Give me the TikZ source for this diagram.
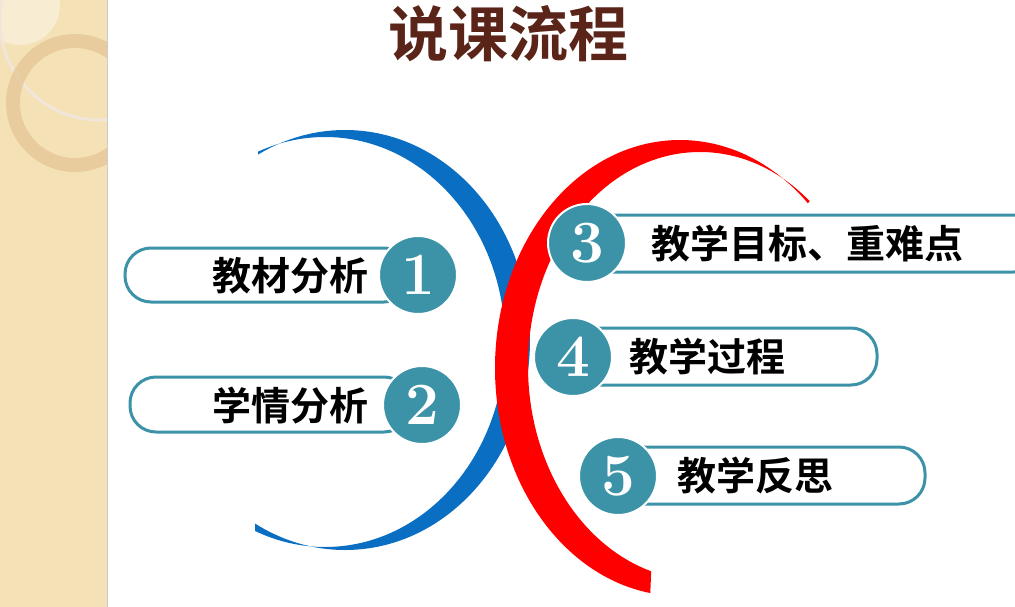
\documentclass[tikz,border=0pt]{standalone}
\usepackage{fontspec}
\newfontfamily\cjk{Noto Sans CJK SC}[BoldFont={Noto Sans CJK SC Bold}]
\definecolor{teal}{HTML}{3C93A8}
\definecolor{beige}{HTML}{F4E2B6}
\definecolor{brownt}{HTML}{5A2418}
\definecolor{blueC}{HTML}{0A6FC2}
\tikzset{
 pill/.style={draw=teal,line width=3pt,rounded corners=26pt,fill=white},
 num/.style={circle,fill=teal,draw=white,line width=2pt,minimum size=78pt,text=white,font=\bfseries\fontsize{60}{60}\selectfont},
 lab/.style={font=\cjk\bfseries\fontsize{39}{39}\selectfont,anchor=west}
}
\begin{document}
\begin{tikzpicture}[x=1pt,y=-1pt]
\useasboundingbox (0,0) rectangle (1015,607);
\fill[white] (0,0) rectangle (1015,607);
\fill[beige] (0,0) rectangle (107,607);
\draw[black!20,line width=1pt] (107,0) -- (107,607);
\begin{scope}
\clip (0,0) rectangle (107,607);
\fill[white,opacity=0.4] (20,5) circle (40);
\draw[white!80!brown,line width=3pt] (100,20) circle (100);
\draw[brown!30!beige,line width=14pt,opacity=0.7] (75,103) circle (62);
\end{scope}
\node[font=\cjk\bfseries\fontsize{60}{60}\selectfont,text=brownt] (title) at (508,34) {说课流程};
% blue crescent
\begin{scope}
\clip (258,175) -- (258,100) -- (600,100) -- (600,560) -- (255,560) -- (255,520) -- (300,340) -- cycle;
\fill[blueC,even odd rule] (345,340) ellipse [x radius=185,y radius=210] (325,342) ellipse [x radius=180,y radius=205];
\end{scope}
% red crescent
\begin{scope}
\clip (480,100) -- (825,100) -- (825,185) -- (660,360) -- (650,600) -- (480,600) -- cycle;
\fill[red,even odd rule] (680,368) ellipse [x radius=185,y radius=228] (700,366) ellipse [x radius=172,y radius=214];
\end{scope}
% pills
\draw[pill] (125,248) rectangle (410,302);
\draw[pill] (130,377) rectangle (410,432);
\draw[pill] (580,215) rectangle (1040,272);
\draw[pill] (570,328) rectangle (877,385);
\draw[pill] (610,447) rectangle (925,504);
\node[num] (n1) at (418,275) {1};
\node[num] (n2) at (422,405) {2};
\node[num] (n3) at (587,243) {3};
\node[num] (n4) at (573,357) {4};
\node[num] (n5) at (618,476) {5};
\node[lab,anchor=east] (t1) at (372,276) {教材分析};
\node[lab,anchor=east] (t2) at (372,406) {学情分析};
\node[lab] (t3) at (648,244) {教学目标、重难点};
\node[lab] (t4) at (626,357) {教学过程};
\node[lab] (t5) at (674,476) {教学反思};
\end{tikzpicture}
\end{document}
